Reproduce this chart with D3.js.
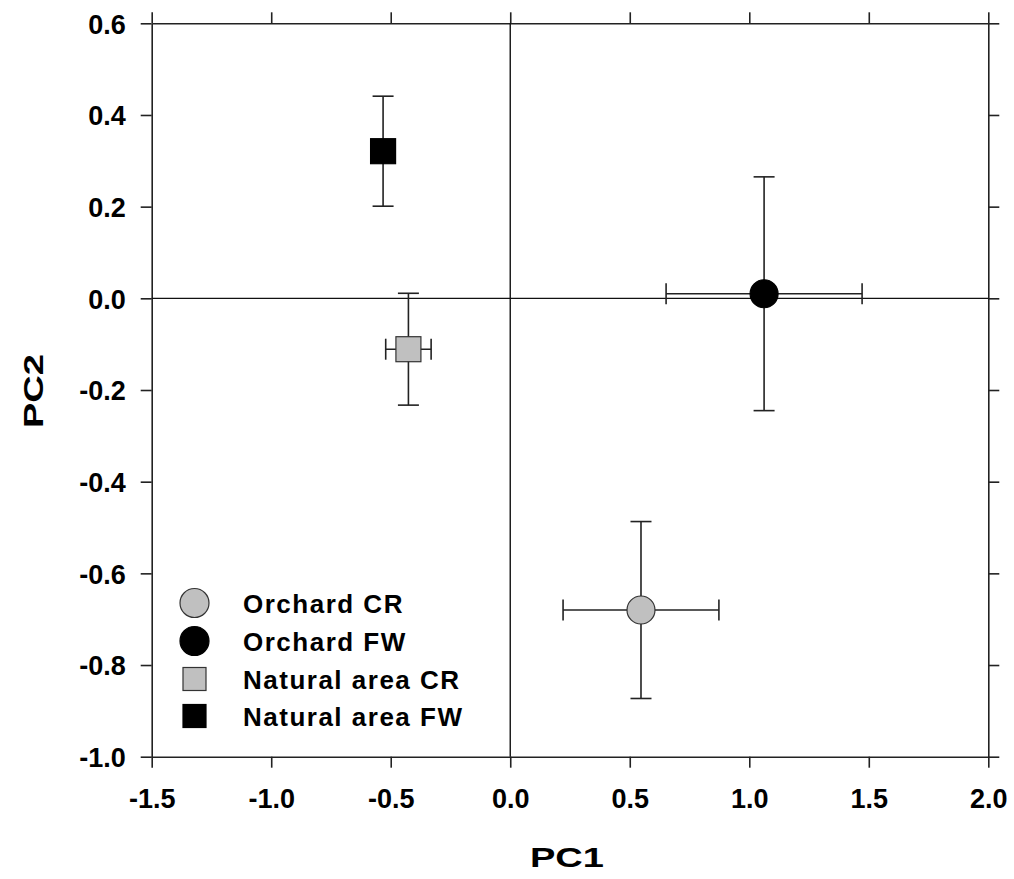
<!DOCTYPE html>
<html>
<head>
<meta charset="utf-8">
<script src="https://cdn.jsdelivr.net/npm/d3@7"></script>
<style>
  html, body { margin: 0; padding: 0; background: #fff; }
  svg { display: block; }
  text { font-family: "Liberation Sans", Arial, sans-serif; font-weight: bold; fill: #000; }
</style>
</head>
<body>
<div id="chart"></div>
<script>
// ---- data ----
const groups  = ["Orchard CR", "Orchard FW", "Natural area CR", "Natural area FW"];
const shapes  = ["circle", "circle", "square", "square"];
const fills   = ["#c0c0c0", "#000000", "#c0c0c0", "#000000"];
const pc1     = [0.547, 1.062, -0.426, -0.532];
const pc1Err  = [0.326, 0.410, 0.095, 0];
const pc2     = [-0.680, 0.010, -0.111, 0.321];
const pc2Err  = [0.193, 0.255, 0.122, 0.120];
const xTicks  = [-1.5, -1.0, -0.5, 0.0, 0.5, 1.0, 1.5, 2.0];
const yTicks  = [-1.0, -0.8, -0.6, -0.4, -0.2, 0.0, 0.2, 0.4, 0.6];

const W = 1014, H = 879;
const L = 151.7, R = 988.3, T = 23.3, B = 756.7;

const svg = d3.select("#chart").append("svg").attr("width", W).attr("height", H);

const x = d3.scaleLinear().domain([-1.5, 2.0]).range([L, R]);
const y = d3.scaleLinear().domain([-1.0, 0.6]).range([B, T]);

const fmt = v => d3.format(".1f")(v).replace("\u2212", "-");
const tickLen = 11;

function styleAxis(g) {
  g.selectAll(".domain").attr("stroke", "#222").attr("stroke-width", 1.6);
  g.selectAll(".tick line").attr("stroke", "#222").attr("stroke-width", 1.6);
}

// bottom axis
const gB = svg.append("g").attr("transform", `translate(0,${B})`)
  .call(d3.axisBottom(x).tickValues(xTicks).tickFormat(fmt).tickSize(tickLen).tickSizeOuter(0));
styleAxis(gB);
gB.selectAll(".tick text").attr("y", 0).attr("dy", 0).attr("transform", "translate(0,51)")
  .style("font-size", "27px").style("font-family", '"Liberation Sans", Arial, sans-serif').style("font-weight", "bold")
  .attr("fill", "#000").attr("text-anchor", "middle");

// top axis
const gT = svg.append("g").attr("transform", `translate(0,${T})`)
  .call(d3.axisTop(x).tickValues(xTicks).tickFormat("").tickSize(tickLen).tickSizeOuter(0));
styleAxis(gT);

// left axis
const gL = svg.append("g").attr("transform", `translate(${L},0)`)
  .call(d3.axisLeft(y).tickValues(yTicks).tickFormat(fmt).tickSize(tickLen).tickSizeOuter(0));
styleAxis(gL);
gL.selectAll(".tick text").attr("x", -26).attr("dy", "0.36em")
  .style("font-size", "27px").style("font-family", '"Liberation Sans", Arial, sans-serif').style("font-weight", "bold")
  .attr("fill", "#000").attr("text-anchor", "end");

// right axis
const gR = svg.append("g").attr("transform", `translate(${R},0)`)
  .call(d3.axisRight(y).tickValues(yTicks).tickFormat("").tickSize(tickLen).tickSizeOuter(0));
styleAxis(gR);

// zero reference lines
svg.append("line").attr("x1", x(-1.5)).attr("x2", x(2.0)).attr("y1", y(0)).attr("y2", y(0))
  .attr("stroke", "#111").attr("stroke-width", 1.4);
svg.append("line").attr("x1", x(0)).attr("x2", x(0)).attr("y1", y(0.6)).attr("y2", y(-1.0))
  .attr("stroke", "#111").attr("stroke-width", 1.4);

// data table
const data = groups.map((g, i) => ({
  name: g, shape: shapes[i], fill: fills[i],
  x: pc1[i], xe: pc1Err[i], y: pc2[i], ye: pc2Err[i]
}));

const cap = 10.5;
const eb = svg.append("g").attr("stroke", "#222").attr("stroke-width", 1.6).attr("fill", "none");
data.forEach(d => {
  if (d.ye > 0) {
    eb.append("line").attr("x1", x(d.x)).attr("x2", x(d.x)).attr("y1", y(d.y + d.ye)).attr("y2", y(d.y - d.ye));
    eb.append("line").attr("x1", x(d.x) - cap).attr("x2", x(d.x) + cap).attr("y1", y(d.y + d.ye)).attr("y2", y(d.y + d.ye));
    eb.append("line").attr("x1", x(d.x) - cap).attr("x2", x(d.x) + cap).attr("y1", y(d.y - d.ye)).attr("y2", y(d.y - d.ye));
  }
  if (d.xe > 0) {
    eb.append("line").attr("x1", x(d.x - d.xe)).attr("x2", x(d.x + d.xe)).attr("y1", y(d.y)).attr("y2", y(d.y));
    eb.append("line").attr("x1", x(d.x - d.xe)).attr("x2", x(d.x - d.xe)).attr("y1", y(d.y) - cap).attr("y2", y(d.y) + cap);
    eb.append("line").attr("x1", x(d.x + d.xe)).attr("x2", x(d.x + d.xe)).attr("y1", y(d.y) - cap).attr("y2", y(d.y) + cap);
  }
});

function drawSymbol(g, shape, fill, cx, cy, size) {
  const stroke = fill === "#000000" ? "#000" : "#333";
  if (shape === "circle") {
    g.append("circle").attr("cx", cx).attr("cy", cy).attr("r", size / 2)
      .attr("fill", fill).attr("stroke", stroke).attr("stroke-width", 1.2);
  } else {
    g.append("rect").attr("x", cx - size / 2).attr("y", cy - size / 2).attr("width", size).attr("height", size)
      .attr("fill", fill).attr("stroke", stroke).attr("stroke-width", 1.2);
  }
}

const sym = svg.append("g");
data.forEach(d => {
  drawSymbol(sym, d.shape, d.fill, x(d.x), y(d.y), d.shape === "circle" ? 28 : 25);
});

// legend
const legY = [603, 641, 679, 716];
const leg = svg.append("g");
data.forEach((d, i) => {
  drawSymbol(leg, d.shape, d.fill, 194.5, legY[i], d.shape === "circle" ? 29 : 23);
  leg.append("text").attr("x", 243).attr("y", legY[i] + 9.5)
    .style("font-size", "26px").style("letter-spacing", "1.5px").text(d.name);
});

// axis titles
svg.append("text").attr("x", 567).attr("y", 867).attr("text-anchor", "middle")
  .style("font-size", "28px").attr("textLength", 74).attr("lengthAdjust", "spacingAndGlyphs").text("PC1");
svg.append("text").attr("transform", "translate(43,391) rotate(-90)").attr("text-anchor", "middle")
  .style("font-size", "28px").attr("textLength", 74).attr("lengthAdjust", "spacingAndGlyphs").text("PC2");
</script>
</body>
</html>
